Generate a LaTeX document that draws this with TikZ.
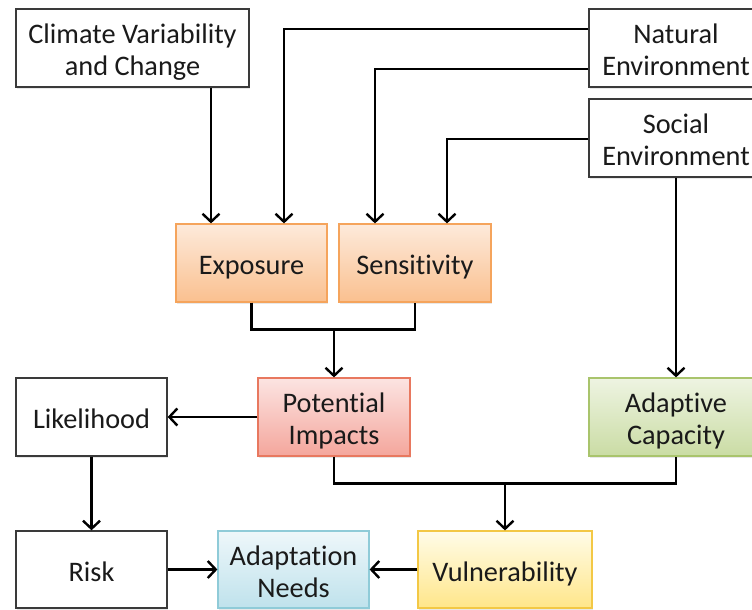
\documentclass[tikz,border=0pt]{standalone}
\usepackage{fontspec}
\setmainfont{Carlito}[Ligatures=NoCommon]
\usetikzlibrary{arrows.meta,shadows,calc}

\definecolor{inkc}{HTML}{1A1A1A}
\definecolor{plainedge}{HTML}{3A3A3A}
\definecolor{expedge}{HTML}{F5A45C}
\definecolor{exptop}{HTML}{FDEADB}
\definecolor{expbot}{HTML}{FAC08F}
\definecolor{potedge}{HTML}{E8785F}
\definecolor{pottop}{HTML}{FCE4E2}
\definecolor{potbot}{HTML}{F4A69C}
\definecolor{adaedge}{HTML}{A9C46C}
\definecolor{adatop}{HTML}{EEF4E2}
\definecolor{adabot}{HTML}{CADCA4}
\definecolor{neededge}{HTML}{8FCBD8}
\definecolor{needtop}{HTML}{EEF7FA}
\definecolor{needbot}{HTML}{BFE2EC}
\definecolor{vuledge}{HTML}{F3C845}
\definecolor{vultop}{HTML}{FFFCE8}
\definecolor{vulbot}{HTML}{FFE68A}

\tikzset{
  box/.style={rectangle, inner sep=0pt, align=center, text=inkc,
    font=\fontsize{28.3}{32}\selectfont,
    % fixed line box: text sits the same way whatever its letters
    execute at begin node={\rule{0pt}{32pt}},
    execute at end node={\rule[-9pt]{0pt}{9pt}},
    drop shadow={opacity=0.18, shadow xshift=1pt, shadow yshift=-1.5pt}},
  % two lines of text: the struts stand on the last line's baseline
  twoline/.style={execute at begin node={\rule{0pt}{64pt}}},
  plainbox/.style={box, draw=plainedge, fill=white, line width=1.3pt},
  colbox/.style n args={3}{box, draw=#1, line width=1.2pt,
    top color=#2, bottom color=#3},
  conn/.style={line width=2.4pt, draw=black, line join=miter},
  arr/.style={conn, -{Straight Barb[length=8pt,width=17pt,line width=2.4pt]}}
}

\begin{document}
\begin{tikzpicture}[x=1pt,y=-1pt]
\useasboundingbox (0,0) rectangle (752,610);
\clip (0,0) rectangle (752,610);

% top row
\node[plainbox, twoline, minimum width=233, minimum height=78] (climate) at (132.5,48)
  {Climate Variability\\and Change};
\node[plainbox, twoline, minimum width=174, minimum height=78] (natural) at (676,48)
  {Natural\\Environment};
\node[plainbox, twoline, minimum width=174, minimum height=78] (social) at (676,138)
  {Social\\Environment};

% exposure and sensitivity
\node[colbox={expedge}{exptop}{expbot}, minimum width=151, minimum height=78]
  (exposure) at (251.5,263) {Exposure};
\node[colbox={expedge}{exptop}{expbot}, minimum width=152, minimum height=78]
  (sensitivity) at (415,263) {Sensitivity};

% middle row
\node[plainbox, minimum width=151, minimum height=78] (likelihood) at (91.5,417)
  {Likelihood};
\node[colbox={potedge}{pottop}{potbot}, twoline, minimum width=152, minimum height=78]
  (potential) at (334,417) {Potential\\Impacts};
\node[colbox={adaedge}{adatop}{adabot}, twoline, minimum width=174, minimum height=78]
  (adaptive) at (676,417) {Adaptive\\Capacity};

% bottom row
\node[plainbox, minimum width=151, minimum height=77] (risk) at (91.5,569.5)
  {Risk};
\node[colbox={neededge}{needtop}{needbot}, twoline, minimum width=151, minimum height=77]
  (needs) at (293.5,569.5) {Adaptation\\Needs};
\node[colbox={vuledge}{vultop}{vulbot}, minimum width=174, minimum height=77]
  (vulner) at (505,569.5) {Vulnerability};

% drivers into exposure and sensitivity
\draw[arr] ([xshift=78.5pt]climate.south) -- ([xshift=-40.5pt]exposure.north);
\draw[arr] ([yshift=19pt]natural.west) -| ([xshift=32.5pt]exposure.north);
\draw[arr] ([yshift=-21pt]natural.west) -| ([xshift=-40pt]sensitivity.north);
\draw[arr] ([yshift=-1pt]social.west) -| ([xshift=32pt]sensitivity.north);
\draw[arr] (social.south) -- (adaptive.north);

% exposure + sensitivity -> potential impacts
\draw[conn] (exposure.south) -- ++(0,27) coordinate (j1) -| (sensitivity.south);
\draw[arr] (potential.north |- j1) -- (potential.north);

% potential impacts + adaptive capacity -> vulnerability
\draw[conn] (potential.south) -- ++(0,27) coordinate (j2) -| (adaptive.south);
\draw[arr] (vulner.north |- j2) -- (vulner.north);

% risk chain
\draw[arr] (potential.west) -- (likelihood.east);
\draw[arr] (likelihood.south) -- (risk.north);
\draw[arr] (risk.east) -- (needs.west);
\draw[arr] (vulner.west) -- (needs.east);
\end{tikzpicture}
\end{document}
